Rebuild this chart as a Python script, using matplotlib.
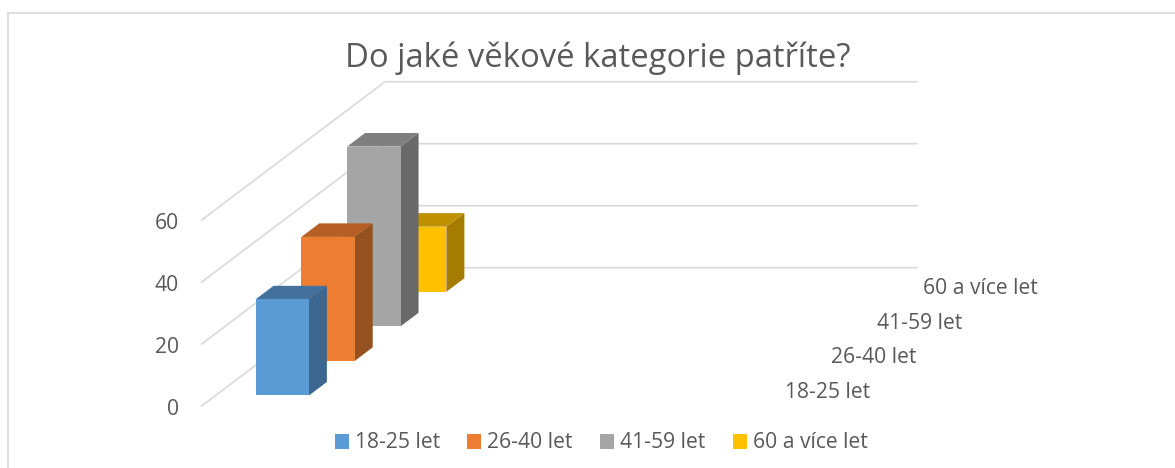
import matplotlib
matplotlib.use("Agg")
import matplotlib.pyplot as plt
from matplotlib.patches import Polygon, Rectangle

# ---- data ----
title = "Do jaké věkové kategorie patříte?"
series_names = ["18-25 let", "26-40 let", "41-59 let", "60 a více let"]
series_values = [31, 40, 58, 21]
value_ticks = [0, 20, 40, 60]

# ---- styles ----
FRONT = ["#5B9BD5", "#ED7D31", "#A5A5A5", "#FFC000"]
SIDE = ["#3A6690", "#955120", "#696969", "#A67C00"]
TOP = ["#41719C", "#B55F25", "#7F7F7F", "#BF9000"]
TEXT = "#595959"
GRID = "#D9D9D9"
plt.rcParams["font.family"] = ["Open Sans", "DejaVu Sans"]

# ---- oblique 3D projection, output in pixels ----
ORIGIN_X, ORIGIN_Y = 201.7, 406.0     # front-left corner of the floor, value 0
DEPTH_DX, DEPTH_DY = 183.3, -138.3    # floor vector from front to back
WIDTH_PX = 532.0                      # floor width
PX_PER_UNIT = 3.1
BAR_X0, BAR_W = 39.9, 53.4
BAR_D = 0.098
SLOT = 0.25


def project(w, depth, value):
    return (ORIGIN_X + w + DEPTH_DX * depth,
            ORIGIN_Y + DEPTH_DY * depth - value * PX_PER_UNIT)


fig = plt.figure(figsize=(11.75, 4.68), dpi=100)
ax = fig.add_axes([0, 0, 1, 1])
ax.set_xlim(0, 1175)
ax.set_ylim(468, 0)
ax.axis("off")

# chart frame (left and top edges only are in view)
ax.plot([7.5, 7.5, 1175], [468, 12.5, 12.5], color="#DEDEDE", lw=1.5, zorder=1,
        solid_joinstyle="miter")

# gridlines and value labels
for v in value_ticks:
    p0, p1 = project(0, 0, v), project(0, 1, v)
    p2 = project(WIDTH_PX, 1, v)
    ax.plot([p0[0], p1[0], p2[0]], [p0[1], p1[1], p2[1]], color=GRID, lw=1.2, zorder=2,
            solid_joinstyle="miter")
    ax.text(179, p0[1] + 3.5, str(v), ha="right", va="center", color=TEXT, fontsize=15.2)

# bars, back to front
for i in range(len(series_values) - 1, -1, -1):
    v = series_values[i]
    d0 = SLOT * i + (SLOT - BAR_D) / 2
    d1 = d0 + BAR_D
    w0, w1 = BAR_X0, BAR_X0 + BAR_W
    z = 3 + (len(series_values) - i)
    ax.add_patch(Polygon([project(w1, d0, 0), project(w1, d1, 0), project(w1, d1, v), project(w1, d0, v)],
                         closed=True, fc=SIDE[i], ec="none", zorder=z))
    ax.add_patch(Polygon([project(w0, d0, v), project(w1, d0, v), project(w1, d1, v), project(w0, d1, v)],
                         closed=True, fc=TOP[i], ec="none", zorder=z))
    ax.add_patch(Polygon([project(w0, d0, 0), project(w1, d0, 0), project(w1, d0, v), project(w0, d0, v)],
                         closed=True, fc=FRONT[i], ec="none", zorder=z))
    # depth-axis label
    lx, ly = project(WIDTH_PX, SLOT * i + SLOT / 2, 0)
    ax.text(lx + 28.5, ly + 3.5, series_names[i], ha="left", va="center", color=TEXT, fontsize=15.2)

# title
ax.text(597.5, 58.5, title, ha="center", va="center", color=TEXT, fontsize=23.6)

# legend
legend_x = [335, 467, 600, 733]
for x, name, c in zip(legend_x, series_names, FRONT):
    ax.add_patch(Rectangle((x, 434), 14, 15, fc=c, ec="none", zorder=3))
    ax.text(x + 20, 442, name, ha="left", va="center", color=TEXT, fontsize=15.2)

fig.savefig("out.png", dpi=100)
